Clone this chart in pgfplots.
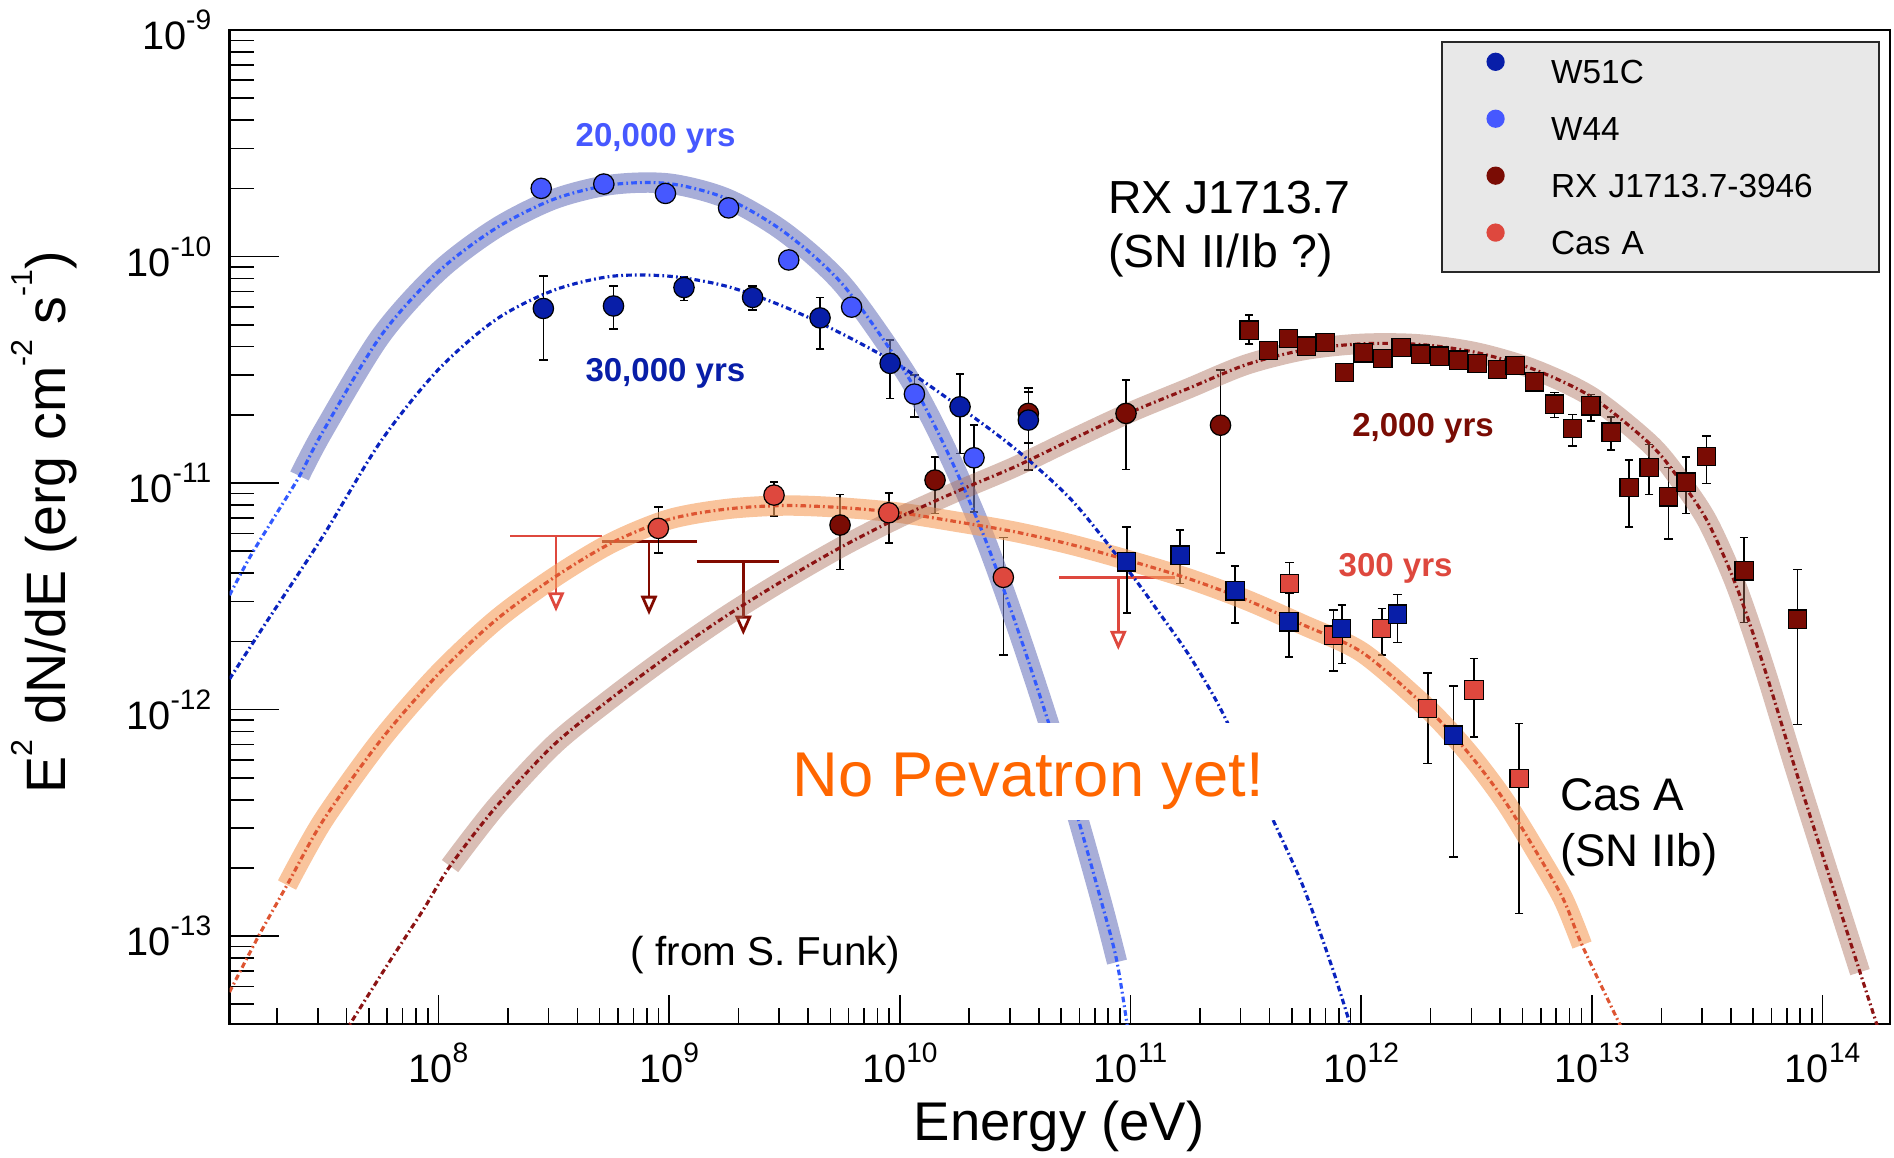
\documentclass[border=0pt]{standalone}
\usepackage{fontspec}
\setmainfont{Liberation Sans}
\usepackage{pgfplots}
\pgfplotsset{compat=1.18}
\usetikzlibrary{arrows.meta}

\definecolor{wfiftyone}{RGB}{8,30,168}
\definecolor{wfortyfour}{RGB}{70,88,255}
\definecolor{rxj}{RGB}{122,12,4}
\definecolor{casa}{RGB}{222,72,62}
\definecolor{bandblue}{RGB}{110,120,190}
\definecolor{bandorange}{RGB}{245,160,95}
\definecolor{bandbrown}{RGB}{170,110,90}
\definecolor{dotorange}{RGB}{222,85,50}
\definecolor{dotbrown}{RGB}{140,20,20}
\definecolor{dotlblue}{RGB}{50,90,255}
\definecolor{dotdblue}{RGB}{10,35,190}
\definecolor{pevorange}{RGB}{255,102,0}
\definecolor{legbg}{RGB}{232,232,232}
\definecolor{legframe}{RGB}{40,40,40}
\definecolor{ulred}{RGB}{222,72,62}
\definecolor{uldark}{RGB}{130,10,0}

\newcommand{\sups}[1]{\raisebox{5.7pt}{\fontsize{8}{8}\selectfont #1}}
\newcommand{\supl}[1]{\raisebox{9.6pt}{\fontsize{8.6}{8.6}\selectfont #1}}

\pgfplotsset{
  log number format basis/.code 2 args={#1\sups{\pgfmathprintnumber[assume math mode=true]{#2}}},
  errs/.style={error bars/y dir=both, error bars/y explicit,
    error bars/error bar style={black, line width=0.45pt},
    error bars/error mark options={black, rotate=90, mark size=1.2pt, line width=0.45pt}},
  ptcirc/.style={only marks, mark=*, mark size=2.9pt, color=#1,
    mark options={draw=black, fill=#1, line width=0.35pt}, errs},
  ptsq/.style={only marks, mark=square*, mark size=2.6pt, color=#1,
    mark options={draw=black, fill=#1, line width=0.35pt}, errs},
  band/.style={no marks, smooth, line width=5.8pt, color=#1},
  dotln/.style={no marks, smooth, color=#1, line width=0.9pt,
    dash pattern=on 1.6pt off 0.9pt on 0.5pt off 0.9pt},
  ulbar/.style={no marks, color=#1, line width=0.8pt},
  ularrow/.style={no marks, color=#1, line width=0.8pt,
    -{Triangle[open, length=5.5pt, width=4.6pt]}},
}

\begin{document}
\begin{tikzpicture}
\useasboundingbox (-2.295,-1.33) rectangle (16.645,10.24);

\begin{axis}[at={(0,0)}, anchor=south west, scale only axis,
  width=16.605cm, height=9.94cm, xmode=log, ymode=log,
  xmin=1.243e7, xmax=1.96e14, ymin=4.09e-14, ymax=1e-9,
  xtick=\empty, ytick pos=left,
  major tick length=14.1pt, minor tick length=7.1pt,
  every tick/.style={black, line width=0.45pt},
  axis line style={black, line width=0.6pt},
  ticklabel style={font=\fontsize{11.3}{12}\selectfont},
  yticklabel style={inner sep=0pt, xshift=-5pt},
  legend image code/.code={\path[draw=none, fill=none] (0cm,0cm) -- (1.09cm,0cm);
    \fill[draw=none] (0.535cm,3.3pt) circle (2.6pt);},
  legend style={at={(0.994,0.9889)}, anchor=north east, fill=legbg, draw=legframe,
    line width=0.6pt, inner xsep=0pt, inner ysep=3.0pt, row sep=5.3pt,
    font=\fontsize{9.5}{9.5}\selectfont,
    nodes={inner sep=0pt, text height=8pt, text depth=2pt, text width=93.3pt, align=left}},
  legend cell align=left,
]

% upper limits
\addplot[forget plot, ulbar=ulred] coordinates {(2.044e8,5.834e-12) (5.103e8,5.834e-12)};
\addplot[forget plot, ularrow=ulred] coordinates {(3.234e8,5.834e-12) (3.234e8,2.703e-12)};
\addplot[forget plot, ulbar=uldark] coordinates {(5.103e8,5.506e-12) (1.317e9,5.506e-12)};
\addplot[forget plot, ularrow=uldark] coordinates {(8.181e8,5.506e-12) (8.181e8,2.614e-12)};
\addplot[forget plot, ulbar=uldark] coordinates {(1.317e9,4.523e-12) (2.995e9,4.523e-12)};
\addplot[forget plot, ularrow=uldark] coordinates {(2.097e9,4.523e-12) (2.097e9,2.133e-12)};
\addplot[forget plot, ulbar=ulred] coordinates {(4.913e10,3.835e-12) (1.559e11,3.835e-12)};
\addplot[forget plot, ularrow=ulred] coordinates {(8.852e10,3.835e-12) (8.852e10,1.831e-12)};

% RX J1713.7-3946, Fermi
\addplot[forget plot, ptcirc=rxj] coordinates {
  (5.507e9,6.526e-12) += (0,2.389e-12) -= (0,2.367e-12)
  (1.421e10,1.031e-11) += (0,2.75e-12) -= (0,2.96e-12)
  (3.606e10,2.03e-11) += (0,5.97e-12) -= (0,5.28e-12)
  (9.56e10,2.03e-11) += (0,8.19e-12) -= (0,8.81e-12)
  (2.455e11,1.801e-11) += (0,1.353e-11) -= (0,1.31e-11)
};
% Cas A, Fermi
\addplot[forget plot, ptcirc=casa] coordinates {
  (8.98e8,6.31e-12) += (0,1.549e-12) -= (0,1.388e-12)
  (2.849e9,8.851e-12) += (0,1.279e-12) -= (0,1.681e-12)
  (8.952e9,7.394e-12) += (0,1.666e-12) -= (0,1.944e-12)
  (2.81e10,3.835e-12) += (0,1.922e-12) -= (0,2.095e-12)
};
% W44
\addplot[forget plot, ptcirc=wfortyfour] coordinates {
  (2.79e8,2.0e-10) (5.21e8,2.09e-10) (9.64e8,1.90e-10) (1.81e9,1.64e-10)
  (3.30e9,9.66e-11) (6.18e9,5.98e-11)
  (1.157e10,2.47e-11) += (0,5.3e-12) -= (0,5.1e-12)
  (2.097e10,1.293e-11) += (0,5.1e-12) -= (0,5.46e-12)
};
% W51C
\addplot[forget plot, ptcirc=wfiftyone] coordinates {
  (2.85e8,5.9e-11) += (0,2.3e-11) -= (0,2.4e-11)
  (5.74e8,6.05e-11) += (0,1.35e-11) -= (0,1.25e-11)
  (1.16e9,7.3e-11) += (0,8e-12) -= (0,9e-12)
  (2.30e9,6.6e-11) += (0,8e-12) -= (0,8e-12)
  (4.51e9,5.36e-11) += (0,1.24e-11) -= (0,1.46e-11)
  (9.08e9,3.376e-11) += (0,9.0e-12) -= (0,1.01e-11)
  (1.824e10,2.172e-11) += (0,8.58e-12) -= (0,8.2e-12)
  (3.606e10,1.897e-11) += (0,6.32e-12) -= (0,7.56e-12)
};
% RX J1713.7-3946, H.E.S.S.
\addplot[forget plot, ptsq=rxj] coordinates {
  (3.27e11,4.73e-11) += (0,7.8e-12) -= (0,6.3e-12)
  (3.96e11,3.84e-11) += (0,3.2e-12) -= (0,3.2e-12)
  (4.83e11,4.35e-11) += (0,3.5e-12) -= (0,3.5e-12)
  (5.79e11,4.02e-11) += (0,3e-12) -= (0,3e-12)
  (6.98e11,4.18e-11) += (0,3e-12) -= (0,3e-12)
  (8.47e11,3.07e-11) += (0,2.2e-12) -= (0,2.2e-12)
  (1.02e12,3.76e-11) += (0,2.5e-12) -= (0,2.5e-12)
  (1.24e12,3.55e-11) += (0,2.3e-12) -= (0,2.3e-12)
  (1.49e12,3.96e-11) += (0,2.5e-12) -= (0,2.5e-12)
  (1.81e12,3.71e-11) += (0,2.3e-12) -= (0,2.3e-12)
  (2.18e12,3.63e-11) += (0,2.3e-12) -= (0,2.3e-12)
  (2.64e12,3.49e-11) += (0,2.3e-12) -= (0,2.3e-12)
  (3.18e12,3.37e-11) += (0,2.3e-12) -= (0,2.3e-12)
  (3.89e12,3.17e-11) += (0,2.3e-12) -= (0,2.3e-12)
  (4.65e12,3.31e-11) += (0,2.5e-12) -= (0,2.5e-12)
  (5.63e12,2.80e-11) += (0,2.3e-12) -= (0,2.3e-12)
  (6.88e12,2.23e-11) += (0,2.8e-12) -= (0,2.8e-12)
  (8.23e12,1.74e-11) += (0,2.7e-12) -= (0,2.8e-12)
  (9.90e12,2.19e-11) += (0,2.7e-12) -= (0,3.1e-12)
  (1.21e13,1.68e-11) += (0,2.8e-12) -= (0,2.8e-12)
  (1.45e13,9.56e-12) += (0,3.07e-12) -= (0,3.15e-12)
  (1.77e13,1.17e-11) += (0,3.13e-12) -= (0,2.79e-12)
  (2.15e13,8.69e-12) += (0,3.04e-12) -= (0,3.03e-12)
  (2.56e13,1.01e-11) += (0,2.96e-12) -= (0,2.75e-12)
  (3.14e13,1.31e-11) += (0,3.08e-12) -= (0,3.13e-12)
  (4.57e13,4.10e-12) += (0,1.66e-12) -= (0,1.68e-12)
  (7.79e13,2.51e-12) += (0,1.65e-12) -= (0,1.65e-12)
};
% Cas A, MAGIC/VERITAS
\addplot[forget plot, ptsq=casa] coordinates {
  (4.89e11,3.607e-12) += (0,8.59e-13) -= (0,3.4e-13)
  (7.569e11,2.133e-12) += (0,6.17e-13) -= (0,6.49e-13)
  (1.227e12,2.283e-12) += (0,5.15e-13) -= (0,5.43e-13)
  (1.942e12,1.012e-12) += (0,4.42e-13) -= (0,4.33e-13)
  (3.082e12,1.22e-12) += (0,4.63e-13) -= (0,4.615e-13)
  (4.831e12,4.968e-13) += (0,3.722e-13) -= (0,3.708e-13)
};
% W51C, MAGIC
\addplot[forget plot, ptsq=wfiftyone] coordinates {
  (9.627e10,4.493e-12) += (0,1.92e-12) -= (0,1.817e-12)
  (1.639e11,4.809e-12) += (0,1.392e-12) -= (0,1.202e-12)
  (2.843e11,3.345e-12) += (0,9.68e-13) -= (0,9.29e-13)
  (4.861e11,2.44e-12) += (0,8.27e-13) -= (0,7.3e-13)
  (8.233e11,2.283e-12) += (0,6.09e-13) -= (0,6.83e-13)
  (1.434e12,2.64e-12) += (0,5.85e-13) -= (0,6.6e-13)
  (2.508e12,7.716e-13) += (0,4.984e-13) -= (0,5.477e-13)
};

% model bands
\addplot[forget plot, band=bandblue, opacity=0.6] coordinates {
  (2.50e7,1.075e-11) (3.162e7,1.693e-11) (5.623e7,4.46e-11) (1e8,8.58e-11)
  (1.778e8,1.335e-10) (3.162e8,1.791e-10) (5.623e8,2.075e-10) (1e9,2.099e-10)
  (1.778e9,1.802e-10) (3.162e9,1.281e-10) (5.623e9,7.58e-11) (1e10,3.36e-11)
  (1.334e10,2.018e-11) (1.778e10,1.1e-11) (2.371e10,5.49e-12) (3.162e10,2.435e-12)
  (4.217e10,1.011e-12) (5.623e10,3.96e-13) (7.499e10,1.403e-13) (8.74e10,7.68e-14)
};
\addplot[forget plot, band=bandorange, opacity=0.62] coordinates {
  (2.207e7,1.68e-13) (3.162e7,3.236e-13) (5.623e7,7.33e-13) (1e8,1.436e-12)
  (1.778e8,2.489e-12) (3.162e8,3.822e-12) (5.623e8,5.44e-12) (1e9,6.914e-12)
  (1.778e9,7.68e-12) (3.162e9,7.96e-12) (5.623e9,7.79e-12) (1e10,7.39e-12)
  (1.778e10,6.74e-12) (3.162e10,6.09e-12) (5.623e10,5.33e-12) (1e11,4.53e-12)
  (1.778e11,3.79e-12) (3.162e11,3.055e-12) (5.623e11,2.362e-12) (1e12,1.80e-12)
  (1.778e12,1.098e-12) (2.371e12,8.19e-13) (3.162e12,5.815e-13) (4.217e12,3.91e-13)
  (5.623e12,2.438e-13) (7.499e12,1.464e-13) (9.06e12,9.13e-14)
};
\addplot[forget plot, band=bandbrown, opacity=0.45] coordinates {
  (1.123e8,2.037e-13) (1.778e8,3.722e-13) (3.162e8,6.985e-13) (5.623e8,1.123e-12)
  (1e9,1.737e-12) (1.778e9,2.6e-12) (3.162e9,3.745e-12) (5.623e9,5.244e-12)
  (1e10,7.07e-12) (1.778e10,9.21e-12) (3.162e10,1.181e-11) (5.623e10,1.565e-11)
  (1e11,2.054e-11) (1.778e11,2.614e-11) (3.162e11,3.329e-11) (5.623e11,3.865e-11)
  (1e12,4.117e-11) (1.778e12,4.095e-11) (3.162e12,3.768e-11) (5.623e12,3.171e-11)
  (1e13,2.394e-11) (1.778e13,1.494e-11) (2.371e13,1.052e-11) (3.162e13,6.80e-12)
  (4.217e13,3.53e-12) (5.623e13,1.498e-12) (7.499e13,5.745e-13) (1e14,2.276e-13)
  (1.452e14,6.93e-14)
};

% model lines
\addplot[forget plot, dotln=dotlblue] coordinates {
  (1.243e7,3.2e-12) (1.526e7,4.727e-12) (1.957e7,7.15e-12)
  (2.50e7,1.075e-11) (3.162e7,1.693e-11) (5.623e7,4.46e-11) (1e8,8.58e-11)
  (1.778e8,1.335e-10) (3.162e8,1.791e-10) (5.623e8,2.075e-10) (1e9,2.099e-10)
  (1.778e9,1.802e-10) (3.162e9,1.281e-10) (5.623e9,7.58e-11) (1e10,3.36e-11)
  (1.334e10,2.018e-11) (1.778e10,1.1e-11) (2.371e10,5.49e-12) (3.162e10,2.435e-12)
  (4.217e10,1.011e-12) (5.623e10,3.96e-13) (7.499e10,1.403e-13) (8.74e10,7.68e-14)
  (9.95e10,3.33e-14)
};
\addplot[forget plot, dotln=dotdblue] coordinates {
  (1.243e7,1.364e-12) (1.778e7,2.394e-12) (3.162e7,5.84e-12) (5.623e7,1.527e-11)
  (1e8,3.173e-11) (1.778e8,5.275e-11) (3.162e8,7.1e-11) (5.623e8,8.18e-11)
  (1e9,8.19e-11) (1.778e9,7.39e-11) (3.162e9,5.997e-11) (5.623e9,4.557e-11)
  (1e10,3.299e-11) (1.778e10,2.199e-11) (3.162e10,1.416e-11) (5.623e10,8.30e-12)
  (1e11,3.993e-12) (1.334e11,2.667e-12) (1.778e11,1.762e-12) (2.371e11,1.079e-12)
  (3.162e11,5.92e-13) (4.217e11,3.139e-13) (5.623e11,1.639e-13) (7.499e11,7.22e-14)
  (9.40e11,3.47e-14)
};
\addplot[forget plot, dotln=dotorange] coordinates {
  (1.243e7,5.66e-14) (1.652e7,9.9e-14)
  (2.207e7,1.68e-13) (3.162e7,3.236e-13) (5.623e7,7.33e-13) (1e8,1.436e-12)
  (1.778e8,2.489e-12) (3.162e8,3.822e-12) (5.623e8,5.44e-12) (1e9,6.914e-12)
  (1.778e9,7.68e-12) (3.162e9,7.96e-12) (5.623e9,7.79e-12) (1e10,7.39e-12)
  (1.778e10,6.74e-12) (3.162e10,6.09e-12) (5.623e10,5.33e-12) (1e11,4.53e-12)
  (1.778e11,3.79e-12) (3.162e11,3.055e-12) (5.623e11,2.362e-12) (1e12,1.80e-12)
  (1.778e12,1.098e-12) (2.371e12,8.19e-13) (3.162e12,5.815e-13) (4.217e12,3.91e-13)
  (5.623e12,2.438e-13) (7.499e12,1.464e-13) (9.06e12,9.13e-14) (1.392e13,3.65e-14)
};
\addplot[forget plot, dotln=dotbrown] coordinates {
  (3.936e7,3.77e-14) (5.928e7,7.3e-14) (8.575e7,1.302e-13)
  (1.123e8,2.037e-13) (1.778e8,3.722e-13) (3.162e8,6.985e-13) (5.623e8,1.123e-12)
  (1e9,1.737e-12) (1.778e9,2.6e-12) (3.162e9,3.745e-12) (5.623e9,5.244e-12)
  (1e10,7.07e-12) (1.778e10,9.21e-12) (3.162e10,1.181e-11) (5.623e10,1.565e-11)
  (1e11,2.054e-11) (1.778e11,2.614e-11) (3.162e11,3.329e-11) (5.623e11,3.865e-11)
  (1e12,4.117e-11) (1.778e12,4.095e-11) (3.162e12,3.768e-11) (5.623e12,3.171e-11)
  (1e13,2.394e-11) (1.778e13,1.494e-11) (2.371e13,1.052e-11) (3.162e13,6.80e-12)
  (4.217e13,3.53e-12) (5.623e13,1.498e-12) (7.499e13,5.745e-13) (1e14,2.276e-13)
  (1.452e14,6.93e-14) (1.773e14,3.69e-14)
};

\addlegendimage{color=wfiftyone}
\addlegendentry{W51C}
\addlegendimage{color=wfortyfour}
\addlegendentry{W44}
\addlegendimage{color=rxj}
\addlegendentry{RX J1713.7-3946}
\addlegendimage{color=casa}
\addlegendentry{Cas A}
\end{axis}

\begin{axis}[at={(0,0)}, anchor=south west, scale only axis,
  width=16.605cm, height=9.94cm, xmode=log, ymode=log,
  xmin=1.243e7, xmax=1.96e14, ymin=4.09e-14, ymax=1e-9,
  ytick=\empty, xtick pos=left,
  major tick length=8.3pt, minor tick length=4.55pt,
  every tick/.style={black, line width=0.45pt},
  axis line style={draw=none},
  ticklabel style={font=\fontsize{11.3}{12}\selectfont},
  xticklabel style={inner sep=0pt, yshift=-5.2pt},
]
\addplot[draw=none, forget plot] coordinates {(1e8,1e-12) (1e9,1e-11)};
\end{axis}

% annotations
\node[anchor=base, rotate=90, font=\fontsize{15.8}{16}\selectfont] at (-1.635,5.015)
  {E\supl{2} dN/dE (erg cm\supl{-2} s\supl{-1})};
\node[anchor=base, font=\fontsize{15.5}{16}\selectfont] at (8.295,-1.16) {Energy (eV)};

\node[anchor=base west, inner sep=0pt, text=wfortyfour, font=\fontsize{9.4}{9.4}\selectfont\bfseries] at (3.455,8.773) {20,000 yrs};
\node[anchor=base west, inner sep=0pt, text=wfiftyone, font=\fontsize{9.4}{9.4}\selectfont\bfseries] at (3.553,6.423) {30,000 yrs};
\node[anchor=base west, inner sep=0pt, text=rxj, font=\fontsize{9.4}{9.4}\selectfont\bfseries] at (11.221,5.873) {2,000 yrs};
\node[anchor=base west, inner sep=0pt, text=casa, font=\fontsize{9.4}{9.4}\selectfont\bfseries] at (11.085,4.473) {300 yrs};

\node[anchor=base west, inner sep=0pt, font=\fontsize{13.2}{14}\selectfont] at (8.781,8.107) {RX J1713.7};
\node[anchor=base west, inner sep=0pt, font=\fontsize{13.2}{14}\selectfont] at (8.781,7.56) {(SN II/Ib ?)};
\node[anchor=base west, inner sep=0pt, font=\fontsize{13}{14}\selectfont] at (13.298,2.14) {Cas A};
\node[anchor=base west, inner sep=0pt, font=\fontsize{13}{14}\selectfont] at (13.298,1.573) {(SN IIb)};

\node[anchor=base west, fill=white, inner xsep=3.5pt, inner ysep=0pt, text height=21pt, text depth=6.6pt,
  text=pevorange, font=\fontsize{18}{18}\selectfont] at (5.502,2.273) {No Pevatron yet!};
\node[anchor=base west, inner sep=0pt, font=\fontsize{11.5}{12}\selectfont] at (4.005,0.59) {( from S. Funk)};
\end{tikzpicture}
\end{document}
